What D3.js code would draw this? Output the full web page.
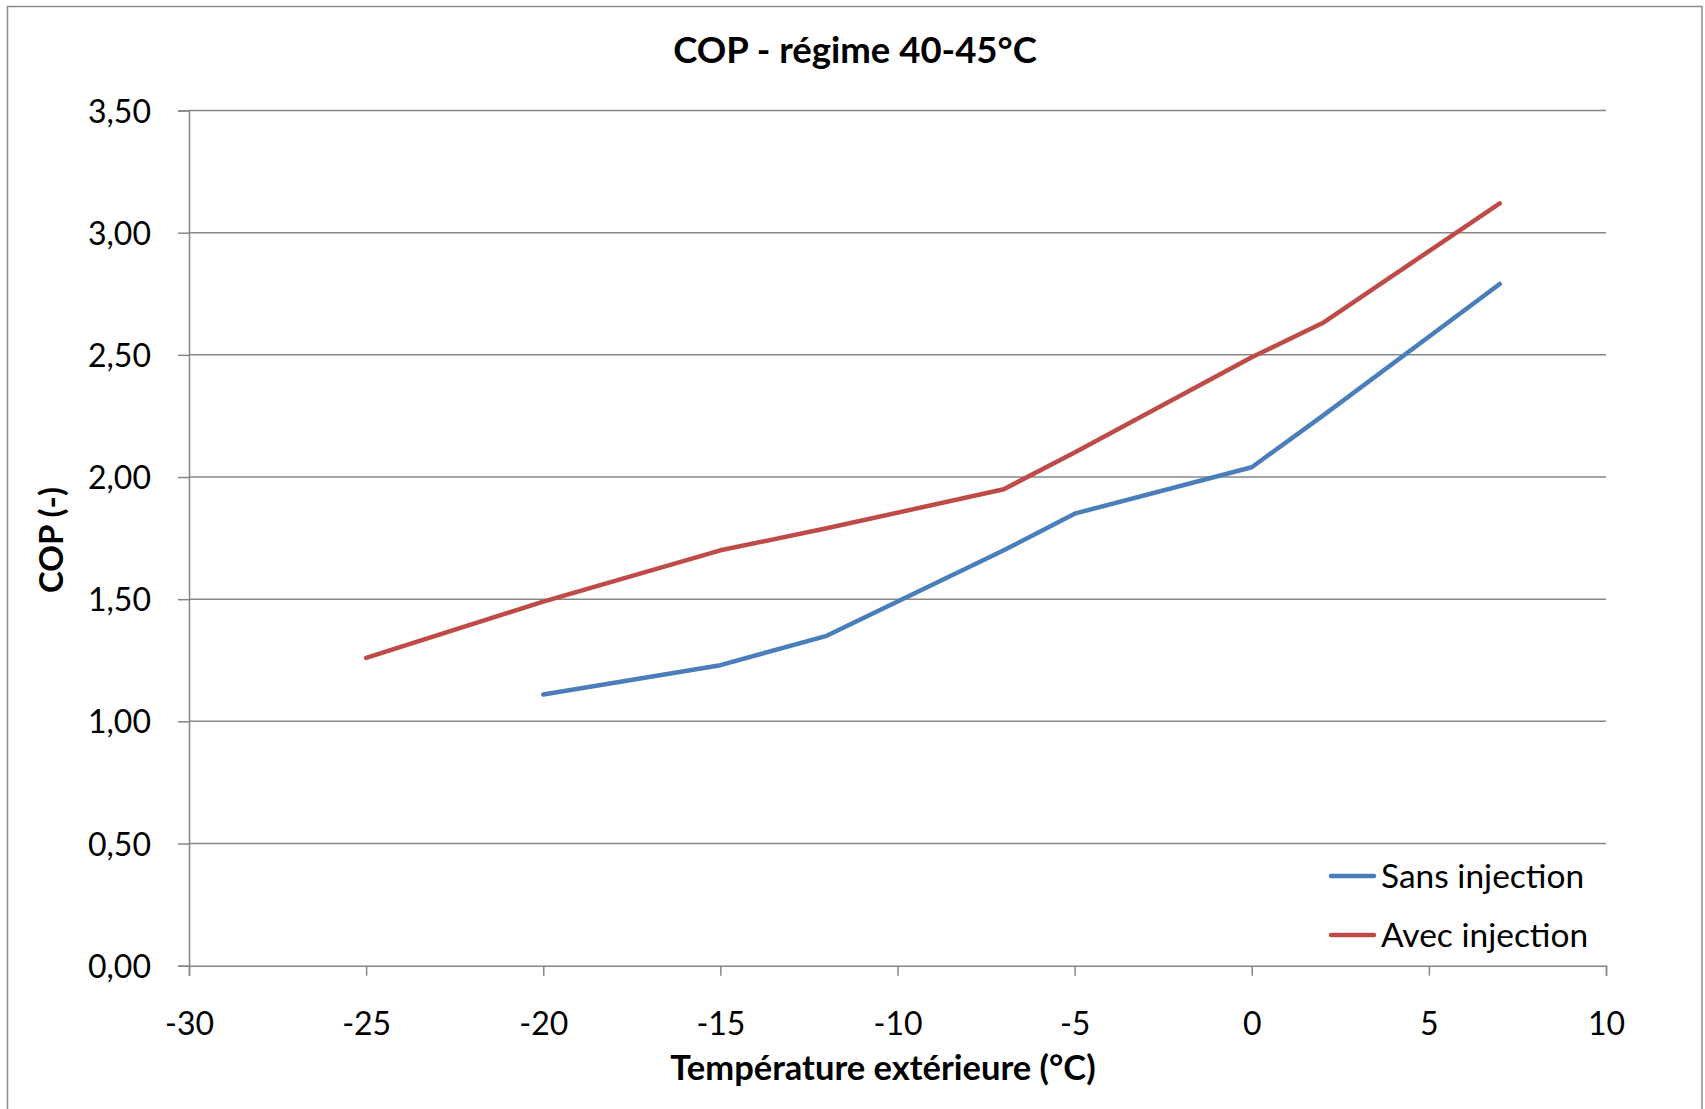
<!DOCTYPE html>
<html><head><meta charset="utf-8">
<script src="https://cdn.jsdelivr.net/npm/d3@7"></script>
<style>
html,body{margin:0;padding:0;background:#fff;}
svg{display:block;font-family:Lato, "Open Sans", sans-serif;}
</style></head>
<body>
<svg id="chart" width="1705" height="1109"></svg>
<script>
const titleText = "COP - régime 40-45°C";
const xLabel = "Température extérieure (°C)";
const yLabel = "COP (-)";
const xTicks = [-30, -25, -20, -15, -10, -5, 0, 5, 10];
const yTicks = [0, 0.5, 1, 1.5, 2, 2.5, 3, 3.5];
const seriesNames = ["Sans injection", "Avec injection"];
const seriesColors = ["#4A7EBB", "#BE4B48"];
const sansTemps = [-20, -15, -12, -7, -5, 0, 2, 7];
const sansCOP = [1.11, 1.23, 1.35, 1.70, 1.85, 2.04, 2.25, 2.79];
const avecTemps = [-25, -20, -15, -12, -7, -5, 0, 2, 7];
const avecCOP = [1.26, 1.49, 1.70, 1.79, 1.95, 2.10, 2.49, 2.63, 3.12];

const svg = d3.select("#chart");
const m = {left: 189, right: 1606, top: 110.5, bottom: 965.7};

// outer chart border
svg.append("rect").attr("x", 7.5).attr("y", 6.5).attr("width", 1694.5).attr("height", 1120)
  .attr("fill", "#fff").attr("stroke", "#8c8c8c").attr("stroke-width", 1.5);

const x = d3.scaleLinear().domain([-30, 10]).range([m.left, m.right]);
const y = d3.scaleLinear().domain([0, 3.5]).range([m.bottom, m.top]);
const fmt = d => d3.format(".2f")(d).replace(".", ",");

// gridlines
svg.append("g").selectAll("line").data(yTicks.filter(d => d > 0)).join("line")
  .attr("x1", m.left).attr("x2", m.right)
  .attr("y1", d => y(d)).attr("y2", d => y(d))
  .attr("stroke", "#868686").attr("stroke-width", 1.5);

// y axis
const yAxis = svg.append("g").attr("transform", `translate(${m.left},0)`)
  .call(d3.axisLeft(y).tickValues(yTicks).tickFormat(fmt).tickSize(11).tickPadding(27));
yAxis.select(".domain").attr("stroke", "#868686").attr("stroke-width", 1.5);
yAxis.selectAll(".tick line").attr("stroke", "#868686").attr("stroke-width", 1.5);
yAxis.selectAll(".tick text").attr("font-size", 32).attr("fill", "#000")
  .attr("font-family", "Lato").attr("dy", "0.36em");

// x axis
const xAxis = svg.append("g").attr("transform", `translate(0,${m.bottom})`)
  .call(d3.axisBottom(x).tickValues(xTicks).tickFormat(d => d).tickSize(10).tickPadding(37));
xAxis.select(".domain").attr("stroke", "#868686").attr("stroke-width", 1.5);
xAxis.selectAll(".tick line").attr("stroke", "#868686").attr("stroke-width", 1.5);
xAxis.selectAll(".tick text").attr("font-size", 32).attr("fill", "#000").attr("font-family", "Lato");

// lines
const line = d3.line().x(d => x(d[0])).y(d => y(d[1]));
const series = [
  d3.zip(sansTemps, sansCOP),
  d3.zip(avecTemps, avecCOP)
];
svg.append("g").selectAll("path").data(series).join("path")
  .attr("d", line).attr("fill", "none")
  .attr("stroke", (d, i) => seriesColors[i]).attr("stroke-width", 4.5)
  .attr("stroke-linejoin", "round").attr("stroke-linecap", "round");

// title
svg.append("text").attr("x", 855).attr("y", 63).attr("text-anchor", "middle")
  .attr("font-size", 36.5).attr("font-weight", "bold").text(titleText);

// axis labels
svg.append("text").attr("x", 883).attr("y", 1080).attr("text-anchor", "middle")
  .attr("font-size", 34.5).attr("font-weight", "bold").text(xLabel);
svg.append("text").attr("transform", "translate(63,540) rotate(-90)").attr("text-anchor", "middle")
  .attr("font-size", 33).attr("font-weight", "bold").text(yLabel);

// legend
const lg = svg.append("g");
seriesNames.forEach((name, i) => {
  const ly = 876 + i * 59;
  lg.append("line").attr("x1", 1331).attr("x2", 1374).attr("y1", ly).attr("y2", ly)
    .attr("stroke", seriesColors[i]).attr("stroke-width", 4.5).attr("stroke-linecap", "round");
  lg.append("text").attr("x", 1381).attr("y", ly + 12).attr("font-size", 33.5).text(name);
});
</script>
</body></html>
